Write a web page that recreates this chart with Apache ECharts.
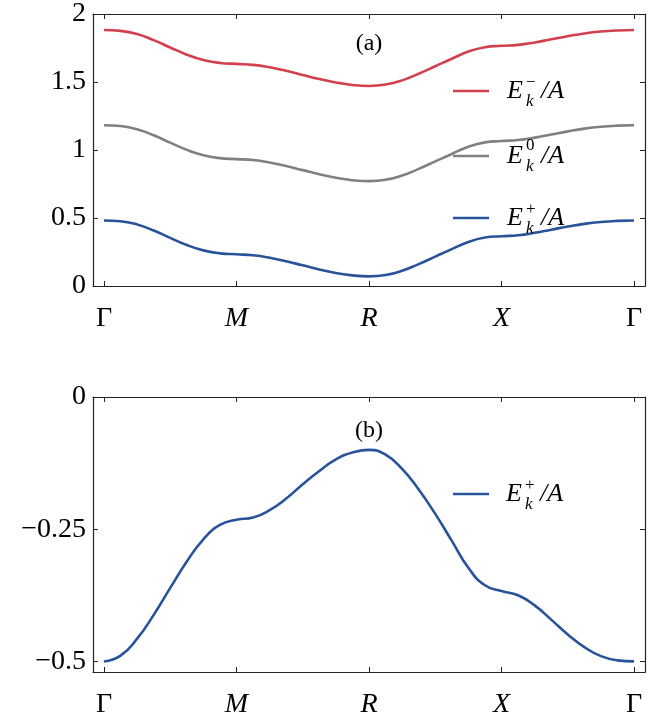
<!DOCTYPE html>
<html><head><meta charset="utf-8">
<script src="https://cdn.jsdelivr.net/npm/echarts@6/dist/echarts.min.js"></script>
<style>html,body{margin:0;padding:0;background:#fff}#c{width:670px;height:719px}</style>
</head><body><div id="c"></div>
<script>
// path coordinate along Γ–M–R–X–Γ
const kPath = [0,0.125,0.25,0.375,0.5,0.625,0.75,0.875,1,1.125,1.25,1.375,1.5,1.625,1.75,1.875,2,2.125,2.25,2.375,2.5,2.625,2.75,2.875,3,3.125,3.25,3.375,3.5,3.625,3.75,3.875,4];
const kTickPos = [0,1,2,3,4];
const kTickNames = ['Γ','M','R','X','Γ'];
const topYTicks = [0,0.5,1,1.5,2];
const bottomYTicks = [-0.5,-0.25,0];
// panel (a)
const eMinusTop = [1.882,1.876,1.853,1.808,1.754,1.701,1.662,1.640,1.633,1.626,1.608,1.582,1.552,1.522,1.496,1.478,1.471,1.481,1.512,1.561,1.616,1.671,1.724,1.756,1.766,1.773,1.791,1.814,1.837,1.857,1.871,1.879,1.882];
const eZeroTop = [1.182,1.176,1.153,1.108,1.054,1.001,0.962,0.940,0.933,0.926,0.908,0.882,0.852,0.822,0.796,0.778,0.771,0.781,0.812,0.861,0.916,0.971,1.024,1.056,1.066,1.073,1.091,1.114,1.137,1.157,1.171,1.179,1.182];
const ePlusTop = [0.482,0.476,0.453,0.408,0.354,0.301,0.262,0.240,0.233,0.226,0.208,0.182,0.152,0.122,0.096,0.078,0.071,0.081,0.112,0.161,0.216,0.271,0.324,0.356,0.366,0.373,0.391,0.414,0.437,0.457,0.471,0.479,0.482];
// panel (b)
const ePlusBottom = [-0.500,-0.489,-0.457,-0.412,-0.361,-0.311,-0.269,-0.242,-0.232,-0.228,-0.214,-0.192,-0.165,-0.140,-0.118,-0.105,-0.100,-0.109,-0.136,-0.175,-0.221,-0.272,-0.323,-0.356,-0.367,-0.375,-0.394,-0.421,-0.449,-0.473,-0.490,-0.498,-0.500];

const RED = '#d2404e', GRAY = '#808080', BLUE = '#28539a';
const FONT = 'Liberation Serif';
const AX = '#222';

const chart = echarts.init(document.getElementById('c'), null, {renderer: 'canvas'});

function xAxis(gi, pos, showLabel) {
  return {
    type: 'value', gridIndex: gi, position: pos, min: -0.083, max: 4.083,
    axisLine: {show: true, onZero: false, lineStyle: {color: AX, width: 1.2}},
    axisTick: {show: true, inside: true, length: 5, customValues: kTickPos, lineStyle: {color: AX, width: 1}},
    axisLabel: {
      show: showLabel, customValues: kTickPos, margin: 19,
      formatter: v => { const n = kTickNames[Math.round(v)]; return n === 'Γ' ? '{g|' + n + '}' : '{i|' + n + '}'; },
      rich: {
        g: {fontFamily: FONT, fontSize: 28, color: '#000'},
        i: {fontFamily: FONT, fontSize: 28, fontStyle: 'italic', color: '#000'}
      }
    },
    splitLine: {show: false}
  };
}
function yAxis(gi, pos, showLabel, min, max, ticks) {
  return {
    type: 'value', gridIndex: gi, position: pos, min: min, max: max,
    axisLine: {show: true, onZero: false, lineStyle: {color: AX, width: 1.2}},
    axisTick: {show: true, inside: true, length: 5, customValues: ticks, lineStyle: {color: AX, width: 1}},
    axisLabel: {
      show: showLabel, customValues: ticks, margin: 7,
      fontFamily: FONT, fontSize: 28, color: '#000',
      formatter: v => v < 0 ? '\u2212' + String(Math.abs(v)) : String(v)
    },
    splitLine: {show: false}
  };
}
function line(xi, yi, ys, color, name) {
  return {
    type: 'line', name: name, xAxisIndex: xi, yAxisIndex: yi,
    data: kPath.map((k, i) => [k, ys[i]]),
    showSymbol: false, smooth: 0.5, silent: true,
    lineStyle: {color: color, width: 2.6}, itemStyle: {color: color}
  };
}
function legendEntry(y, color, sup, supDy, ex) {
  const x0 = 453, ex0 = ex || 507;
  return [
    {type: 'line', shape: {x1: x0, y1: y, x2: x0 + 36, y2: y}, style: {stroke: color, lineWidth: 2.6}, z: 10},
    {type: 'text', x: ex0, y: y, style: {text: 'E', font: 'italic 26px "' + FONT + '"', fill: '#000', verticalAlign: 'middle', align: 'left'}, z: 10},
    {type: 'text', x: ex0 + 19, y: y + supDy, style: {text: sup, font: '17px "' + FONT + '"', fill: '#000', verticalAlign: 'middle', align: 'left'}, z: 10},
    {type: 'text', x: ex0 + 19, y: y + 11, style: {text: 'k', font: 'italic 17px "' + FONT + '"', fill: '#000', verticalAlign: 'middle', align: 'left'}, z: 10},
    {type: 'text', x: ex0 + 34, y: y, style: {text: '/A', font: 'italic 26px "' + FONT + '"', fill: '#000', verticalAlign: 'middle', align: 'left'}, z: 10}
  ];
}

chart.setOption({
  animation: false,
  backgroundColor: '#fff',
  grid: [
    {left: 93, top: 10, width: 552, height: 276},
    {left: 93, top: 397, width: 552, height: 276}
  ],
  xAxis: [xAxis(0, 'bottom', true), xAxis(0, 'top', false), xAxis(1, 'bottom', true), xAxis(1, 'top', false)],
  yAxis: [
    yAxis(0, 'left', true, 0, 2, topYTicks), yAxis(0, 'right', false, 0, 2, topYTicks),
    yAxis(1, 'left', true, -0.52, 0, bottomYTicks), yAxis(1, 'right', false, -0.52, 0, bottomYTicks)
  ],
  series: [
    line(0, 0, eMinusTop, RED, 'E-'),
    line(0, 0, eZeroTop, GRAY, 'E0'),
    line(0, 0, ePlusTop, BLUE, 'E+'),
    line(2, 2, ePlusBottom, BLUE, 'Eb+')
  ],
  graphic: [
    {type: 'text', x: 369, y: 44, style: {text: '(a)', font: '24px "' + FONT + '"', fill: '#000', align: 'center', verticalAlign: 'middle'}},
    {type: 'text', x: 369, y: 431, style: {text: '(b)', font: '24px "' + FONT + '"', fill: '#000', align: 'center', verticalAlign: 'middle'}}
  ].concat(
    legendEntry(91, RED, '\u2212', -8),
    legendEntry(156, GRAY, '0', -10),
    legendEntry(218, BLUE, '+', -8),
    legendEntry(494, BLUE, '+', -8, 506)
  )
});
</script>
</body></html>
